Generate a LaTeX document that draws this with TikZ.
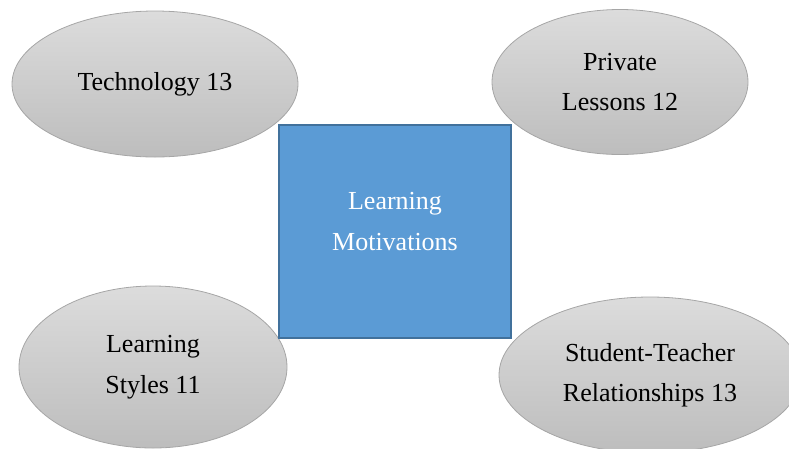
\documentclass[tikz,border=0pt]{standalone}
\usepackage{fontspec}
\setmainfont{Liberation Serif}
\usepackage{tikz}
\usetikzlibrary{shapes.geometric}
\definecolor{bubtop}{HTML}{DCDCDC}
\definecolor{bubbot}{HTML}{BDBDBD}
\definecolor{bubline}{HTML}{A6A6A6}
\definecolor{boxfill}{HTML}{5B9BD5}
\definecolor{boxline}{HTML}{41719C}

\begin{document}
\begin{tikzpicture}[x=1pt,y=1pt,
  bubble/.style={ellipse,draw=bubline,line width=0.8pt,top color=bubtop,bottom color=bubbot,
    inner sep=0pt,align=center,font=\fontsize{26}{40.5}\selectfont},
  motive/.style={rectangle,draw=boxline,line width=2pt,fill=boxfill,
    minimum width=232pt,minimum height=213pt,inner sep=0pt}]
\useasboundingbox (0,0) rectangle (789,-448);
\clip (0,0) rectangle (789,-448);

\node[bubble,minimum width=286pt,minimum height=146pt] (tech) at (155,-84) {Technology 13};
\node[bubble,minimum width=256pt,minimum height=145pt] (priv) at (620,-82) {Private\\Lessons 12};
\node[bubble,minimum width=268pt,minimum height=162pt] (styles) at (153,-367) {Learning\\Styles 11};
\node[bubble,minimum width=302pt,minimum height=156pt] (rel) at (650,-375) {Student-Teacher\\Relationships 13};

\node[motive,label={[white,align=center,font=\fontsize{26}{41}\selectfont,yshift=10pt]center:Learning\\Motivations}] (motiv) at (395,-231.5) {};
\end{tikzpicture}
\end{document}
